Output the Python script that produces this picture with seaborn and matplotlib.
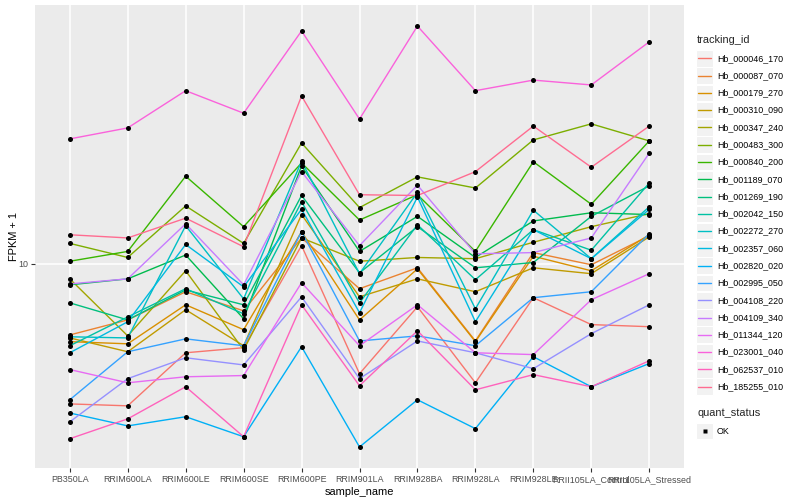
import numpy as np
import pandas as pd
import seaborn as sns
import matplotlib.pyplot as plt
from matplotlib.lines import Line2D
from matplotlib.patches import Rectangle
from matplotlib.ticker import FixedLocator, NullLocator

# samples along the x axis
samples = ["PB350LA", "RRIM600LA", "RRIM600LE", "RRIM600SE", "RRIM600PE",
           "RRIM901LA", "RRIM928BA", "RRIM928LA", "RRIM928LE",
           "RRII105LA_Control", "RRII105LA_Stressed"]

tracking_ids = ["Hb_000046_170", "Hb_000087_070", "Hb_000179_270", "Hb_000310_090",
                "Hb_000347_240", "Hb_000483_300", "Hb_000840_200", "Hb_001189_070",
                "Hb_001269_190", "Hb_002042_150", "Hb_002272_270", "Hb_002357_060",
                "Hb_002820_020", "Hb_002995_050", "Hb_004108_220", "Hb_004109_340",
                "Hb_011344_120", "Hb_023001_040", "Hb_062537_010", "Hb_185255_010"]

# FPKM + 1
hb_000046_170 = [3.41, 3.36, 5.05, 5.25, 11.5, 4.30, 7.19, 4.01, 7.71, 6.27, 6.17]
hb_000087_070 = [5.79, 6.50, 8.07, 6.97, 12.2, 8.26, 9.70, 5.53, 10.9, 9.93, 12.4]
hb_000179_270 = [5.50, 5.41, 7.30, 6.03, 12.8, 6.50, 9.62, 5.50, 10.6, 9.48, 12.5]
hb_000310_090 = [5.66, 5.09, 7.03, 5.33, 14.6, 7.76, 8.91, 8.07, 9.70, 9.27, 12.3]
hb_000347_240 = [8.91, 5.75, 9.48, 5.16, 12.2, 10.2, 10.5, 10.4, 11.8, 13.3, 14.7]
hb_000483_300 = [11.7, 10.5, 15.6, 11.7, 25.3, 15.4, 19.5, 17.9, 25.9, 29.3, 25.7]
hb_000840_200 = [10.2, 11.0, 19.6, 13.3, 21.7, 14.0, 17.0, 11.0, 21.9, 15.8, 25.7]
hb_001189_070 = [8.51, 8.91, 10.7, 6.56, 21.2, 11.0, 14.4, 10.5, 13.9, 14.8, 14.6]
hb_001269_190 = [7.41, 6.50, 8.18, 7.30, 16.9, 9.33, 13.3, 9.70, 10.1, 14.4, 18.2]
hb_002042_150 = [5.33, 6.65, 8.26, 6.81, 16.1, 7.41, 13.5, 8.85, 13.0, 11.1, 18.6]
hb_002272_270 = [5.71, 5.66, 13.4, 7.64, 22.0, 9.27, 17.3, 7.08, 15.1, 10.4, 15.5]
hb_002357_060 = [5.05, 6.41, 11.6, 8.38, 15.2, 6.87, 16.7, 6.41, 13.0, 10.4, 15.2]
hb_002820_020 = [3.18, 2.88, 3.09, 2.65, 5.29, 2.45, 3.52, 2.82, 4.90, 3.89, 4.65]
hb_002995_050 = [3.52, 5.09, 5.62, 5.33, 12.8, 5.53, 5.75, 5.33, 7.71, 8.07, 12.6]
hb_004108_220 = [2.97, 4.14, 4.86, 4.60, 7.76, 4.14, 5.53, 5.05, 4.47, 5.85, 7.30]
hb_004109_340 = [8.57, 8.91, 13.6, 8.51, 20.3, 11.5, 18.3, 10.8, 10.9, 12.2, 23.4]
hb_011344_120 = [4.44, 4.01, 4.20, 4.24, 8.65, 5.33, 7.30, 5.05, 4.98, 7.59, 9.27]
hb_023001_040 = [26.1, 28.4, 37.8, 31.8, 59.8, 30.4, 62.1, 37.8, 41.0, 39.5, 55.0]
hb_062537_010 = [2.61, 3.04, 3.89, 2.65, 7.30, 3.92, 5.98, 3.80, 4.27, 3.89, 4.75]
hb_185255_010 = [12.5, 12.2, 14.2, 11.4, 36.3, 17.0, 16.9, 20.3, 28.8, 21.0, 28.8]

series = [hb_000046_170, hb_000087_070, hb_000179_270, hb_000310_090, hb_000347_240,
          hb_000483_300, hb_000840_200, hb_001189_070, hb_001269_190, hb_002042_150,
          hb_002272_270, hb_002357_060, hb_002820_020, hb_002995_050, hb_004108_220,
          hb_004109_340, hb_011344_120, hb_023001_040, hb_062537_010, hb_185255_010]

# ggplot2 default hue palette for 20 levels
colors = ["#F8766D", "#EA8331", "#D89000", "#C09B00", "#A3A500", "#7CAE00",
          "#39B600", "#00BB4E", "#00BF7D", "#00C1A3", "#00BFC4", "#00BAE0",
          "#00B0F6", "#35A2FF", "#9590FF", "#C77CFF", "#E76BF3", "#FA62DB",
          "#FF62BC", "#FF6C91"]

rows = []
for tid, vals in zip(tracking_ids, series):
    for s, v in zip(samples, vals):
        rows.append((tid, s, v))
df = pd.DataFrame(rows, columns=["tracking_id", "sample_name", "fpkm"])
df["x"] = pd.Categorical(df["sample_name"], categories=samples).codes

FONT = ["Liberation Sans", "DejaVu Sans"]
sns.set_theme(style="darkgrid")
plt.rcParams["font.family"] = FONT

W, H = 800, 500
fig = plt.figure(figsize=(8, 5), dpi=100)
fig.patch.set_facecolor("white")
ax = fig.add_axes([35 / W, 1 - 468 / H, (684 - 35) / W, (468 - 5) / H])
ax.set_facecolor("#EBEBEB")

sns.lineplot(data=df, x="x", y="fpkm", hue="tracking_id", hue_order=tracking_ids,
             palette=dict(zip(tracking_ids, colors)), estimator=None, sort=False,
             lw=1.0, legend=False, ax=ax)
sns.scatterplot(data=df, x="x", y="fpkm", color="black", marker="o", s=13,
                linewidth=0, legend=False, ax=ax, zorder=5)

ax.set_yscale("log")
lo, hi = np.log10(df["fpkm"].min()), np.log10(df["fpkm"].max())
pad = 0.05 * (hi - lo)
ax.set_ylim(10 ** (lo - pad), 10 ** (hi + pad))
n = len(samples)
ax.set_xlim(-0.6, n - 1 + 0.6)

ax.yaxis.set_major_locator(FixedLocator([10]))
ax.yaxis.set_minor_locator(NullLocator())
ax.set_yticklabels(["10"])
ax.set_xticks(range(n))
ax.set_xticklabels(samples)
ax.xaxis.set_minor_locator(NullLocator())

ax.grid(True, which="major", color="white", lw=1.1)
for sp in ax.spines.values():
    sp.set_visible(False)
ax.tick_params(axis="both", which="major", length=3, width=0.8, color="#333333",
               labelsize=6.4, labelcolor="#4D4D4D", pad=2, direction="out")
ax.tick_params(axis="x", bottom=True)
ax.tick_params(axis="y", left=True)
ax.set_xlabel("sample_name", fontsize=7.9, color="black", labelpad=2)
ax.set_ylabel("FPKM + 1", fontsize=7.9, color="black", labelpad=-1)

# legend, ggplot style
tf = fig.transFigure


def fx(px):
    return px / W


def fy(py):
    return 1 - py / H


fig.text(fx(697), fy(40), "tracking_id", fontsize=7.9, va="center", ha="left")
for i, (tid, c) in enumerate(zip(tracking_ids, colors)):
    yc = 58.3 + i * 17.28
    fig.patches.append(Rectangle((fx(696), fy(yc + 8.3)), 17 / W, 16.6 / H,
                                 transform=tf, facecolor="#F2F2F2", edgecolor="white", lw=0.8))
    fig.lines.append(Line2D([fx(698), fx(711)], [fy(yc), fy(yc)], transform=tf,
                            color=c, lw=1.0))
    fig.text(fx(717), fy(yc), tid, fontsize=6.4, va="center", ha="left", color="black")

fig.text(fx(697), fy(413), "quant_status", fontsize=7.9, va="center", ha="left")
yc = 431
fig.patches.append(Rectangle((fx(696), fy(yc + 8.3)), 17 / W, 16.6 / H,
                             transform=tf, facecolor="#F2F2F2", edgecolor="white", lw=0.8))
fig.lines.append(Line2D([fx(704.5)], [fy(yc)], transform=tf, marker="s", ms=3,
                        color="black", mec="none", lw=0))
fig.text(fx(717), fy(yc), "OK", fontsize=6.4, va="center", ha="left", color="black")

fig.savefig("out.png", dpi=100)
